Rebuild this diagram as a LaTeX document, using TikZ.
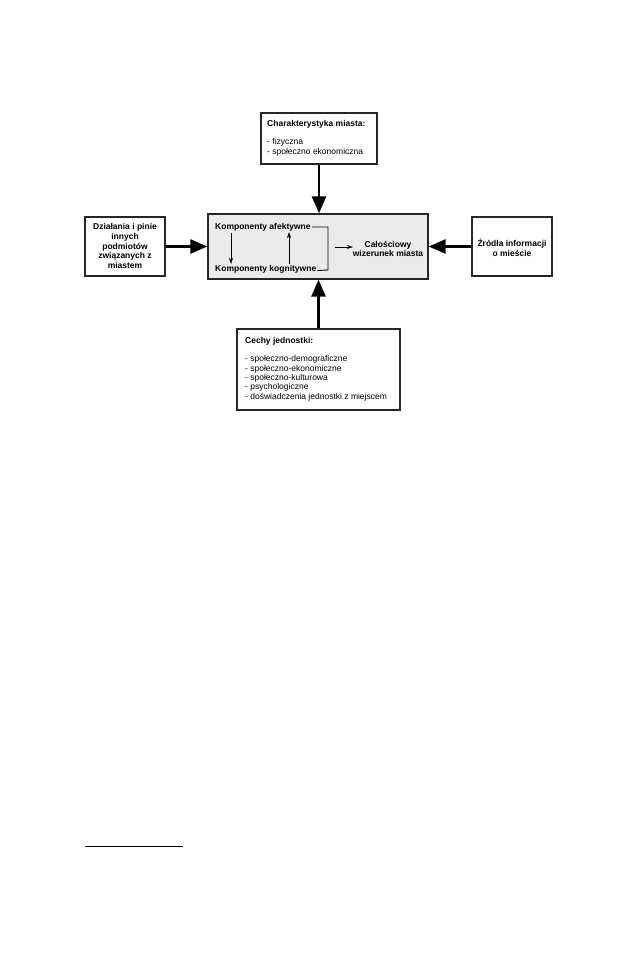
\documentclass[tikz,border=0pt]{standalone}
\usepackage{fontspec}
\setmainfont{Liberation Sans}
\usetikzlibrary{arrows.meta}
\begin{document}
\begin{tikzpicture}[x=1pt,y=-1pt,
  box/.style={draw=black!85,line width=1.3pt,inner sep=0pt},
  txt/.style={inner sep=0pt,font=\fontsize{8.5}{9.4}\selectfont},
  btxt/.style={txt,font=\fontsize{8.5}{9.6}\selectfont\bfseries},
  bigarrow/.style={line width=2.6pt,-{Triangle[width=14pt,length=17pt]}},
  thin/.style={line width=0.9pt,-{Stealth[width=4pt,length=6pt]}},
  bracket/.style={line width=0.9pt}]
\useasboundingbox (0,0) rectangle (638,978);
% boxes
\node[box,fill=black!8,minimum width=220pt,minimum height=65pt] (main) at (318,246.5) {};
\node[box,minimum width=116pt,minimum height=51pt] (top) at (319,138.5) {};
\node[box,minimum width=80pt,minimum height=59pt] (left) at (125,246.5) {};
\node[box,minimum width=80pt,minimum height=59pt] (right) at (512,246.5) {};
\node[box,minimum width=163pt,minimum height=81pt] (bottom) at (318.5,369.5) {};
% texts
\node[txt,align=left,anchor=north west] (toptxt) at (267,120) {\textbf{Charakterystyka miasta:}\\[9pt]- fizyczna\\- społeczno ekonomiczna};
\node[btxt,align=center] (lefttxt) at (125,246) {Działania i pinie\\innych\\podmiotów\\związanych z\\miastem};
\node[btxt,align=center] (righttxt) at (512,247.5) {Źródła informacji\\o mieście};
\node[txt,align=left,anchor=north west] (bottxt) at (245,337) {\textbf{Cechy jednostki:}\\[9pt]- społeczno-demograficzne\\- społeczno-ekonomiczne\\- społeczno-kulturowa\\- psychologiczne\\- doświadczenia jednostki z miejscem};
% inner
\node[btxt,anchor=west] (ka) at (215,227) {Komponenty afektywne};
\node[btxt,anchor=west] (kk) at (215,269.5) {Komponenty kognitywne};
\node[btxt,align=center] (cw) at (388,249) {Całościowy\\wizerunek miasta};
\coordinate (d1) at (231,233);
\coordinate (d2) at (231,264);
\coordinate (u1) at (289,264);
\coordinate (u2) at (289,232);
\coordinate (b1) at (328,227);
\coordinate (b2) at (328,270);
\coordinate (a1) at (335,247);
\coordinate (a2) at (353,247);
\draw[thin] (d1) -- (d2);
\draw[thin] (u1) -- (u2);
\draw[bracket] ([xshift=1pt]ka.east) -- (b1) -- (b2) -- ([xshift=1pt,yshift=-1pt]kk.east);
\draw[thin] (a1) -- (a2);
% big arrows
\draw[bigarrow] (top.south) -- (top.south |- main.north);
\draw[bigarrow] (bottom.north) -- (bottom.north |- main.south);
\draw[bigarrow] (left.east) -- (main.west);
\draw[bigarrow] (right.west) -- (main.east);
% footnote rule
\coordinate (f1) at (85,846);
\coordinate (f2) at (183,846);
\draw[line width=1pt] (f1) -- (f2);
\end{tikzpicture}
\end{document}
